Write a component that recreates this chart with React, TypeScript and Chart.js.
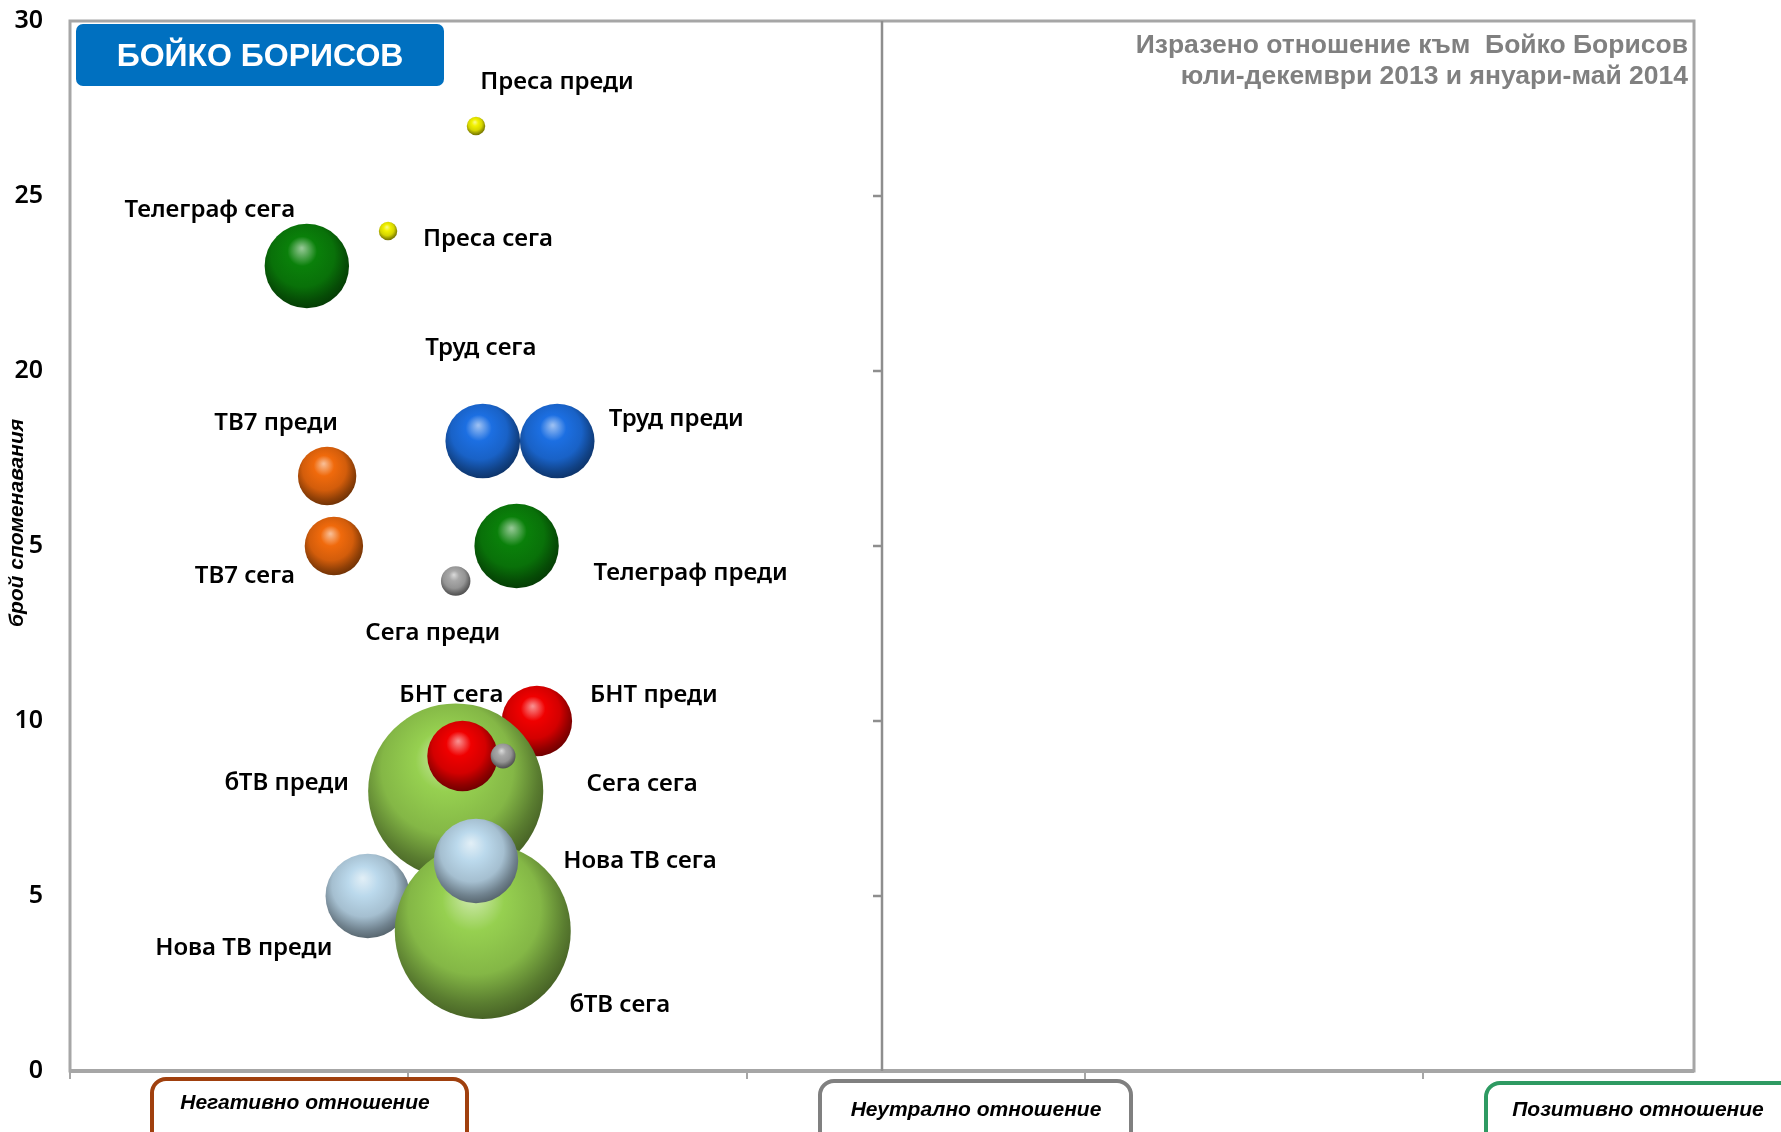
import React, { useEffect, useRef } from "react";
import { Chart, registerables } from "chart.js";

Chart.register(...registerables);

// ---- data (draw order: "преди" first, then "сега") ----
const bubbleLabels = [
  "Преса преди",
  "Труд преди",
  "ТВ7 преди",
  "Телеграф преди",
  "Сега преди",
  "БНТ преди",
  "бТВ преди",
  "Нова ТВ преди",
  "Преса сега",
  "Телеграф сега",
  "Труд сега",
  "ТВ7 сега",
  "бТВ сега",
  "БНТ сега",
  "Сега сега",
  "Нова ТВ сега",
];
// attitude (x)
const attitudeValues = [
  -0.6, -0.48, -0.82, -0.54, -0.63, -0.51, -0.63, -0.76,
  -0.73, -0.85, -0.59, -0.81, -0.59, -0.62, -0.56, -0.6,
];
// number of mentions (y)
const mentionValues = [27, 18, 17, 15, 14, 10, 8, 5, 24, 23, 18, 15, 4, 9, 9, 6];
// bubble size
const sizeValues = [1.1, 18, 11, 23, 2.8, 16, 99, 23, 1.1, 23, 18, 11, 100, 16, 2, 23];

const yTickValues = [0, 5, 10, 15, 20, 25, 30];
const xTickValues = [-1.2, -0.7, -0.2, 0.3, 0.8];

const chartTitle = "БОЙКО БОРИСОВ";
const subtitleLines = [
  "Изразено отношение към  Бойко Борисов",
  "юли-декември 2013 и януари-май 2014",
];
const yAxisTitle = "брой споменавания";
const zoneLabels = ["Негативно отношение", "Неутрално отношение", "Позитивно отношение"];

// ---- styles / layout ----
const bubbleColors = [
  "#F2F200", "#1C6FE2", "#F06A0C", "#0A800A", "#A8A8A8", "#F00000", "#96D050", "#BBD9EC",
  "#F2F200", "#0A800A", "#1C6FE2", "#F06A0C", "#96D050", "#F00000", "#A8A8A8", "#BBD9EC",
];
const labelOffsets: [number, number][] = [
  [81, -44], [119, -22], [-51, -53], [174, 27], [-23, 52], [117, -26], [-169, -8], [-124, 52],
  [100, 8], [-97, -56], [-2, -93], [-89, 30], [137, 74], [-11, -61], [139, 28], [164, 0],
];
const MAX_RADIUS = 88;

function hexToRgb(h: string) {
  const n = parseInt(h.slice(1), 16);
  return [(n >> 16) & 255, (n >> 8) & 255, n & 255];
}
function mix(a: string, b: string, t: number) {
  const A = hexToRgb(a);
  const B = hexToRgb(b);
  const c = A.map((v, i) => Math.round(v + (B[i] - v) * t));
  return `rgb(${c[0]},${c[1]},${c[2]})`;
}

const maxSize = Math.max(...sizeValues);
const bubbleData = attitudeValues.map((x, i) => ({
  x,
  y: mentionValues[i],
  r: MAX_RADIUS * Math.sqrt(sizeValues[i] / maxSize),
}));

const decorPlugin = {
  id: "decor",
  beforeDatasetsDraw(chart: any) {
    const { ctx, chartArea: a, scales } = chart;
    ctx.save();
    // plot border
    ctx.strokeStyle = "#A6A6A6";
    ctx.lineWidth = 3;
    ctx.strokeRect(a.left, a.top, a.right - a.left, a.bottom - a.top);
    ctx.lineWidth = 4;
    ctx.beginPath();
    ctx.moveTo(a.left, a.bottom);
    ctx.lineTo(a.right, a.bottom);
    ctx.stroke();
    // center (x = 0) axis line with ticks
    const x0 = scales.x.getPixelForValue(0);
    ctx.strokeStyle = "#8E8E8E";
    ctx.lineWidth = 2.5;
    ctx.beginPath();
    ctx.moveTo(x0, a.top);
    ctx.lineTo(x0, a.bottom);
    ctx.stroke();
    yTickValues.forEach((v) => {
      if (v === 0 || v === 30) return;
      const y = scales.y.getPixelForValue(v);
      ctx.beginPath();
      ctx.moveTo(x0 - 9, y);
      ctx.lineTo(x0, y);
      ctx.stroke();
    });
    ctx.restore();
  },
  afterDatasetsDraw(chart: any) {
    const { ctx, scales } = chart;
    ctx.save();
    ctx.font = "600 24px 'Noto Sans'";
    ctx.fillStyle = "#000";
    ctx.textAlign = "center";
    ctx.textBaseline = "middle";
    bubbleLabels.forEach((lab, i) => {
      const px = scales.x.getPixelForValue(attitudeValues[i]);
      const py = scales.y.getPixelForValue(mentionValues[i]);
      const [dx, dy] = labelOffsets[i];
      ctx.fillText(lab, px + dx, py + dy);
    });
    ctx.restore();
  },
  afterDraw(chart: any) {
    const { ctx } = chart;
    ctx.save();
    // title box
    ctx.fillStyle = "#0070C0";
    ctx.beginPath();
    ctx.roundRect(76, 24, 368, 62, 7);
    ctx.fill();
    ctx.fillStyle = "#fff";
    ctx.font = "bold 32px 'Liberation Sans'";
    ctx.textAlign = "center";
    ctx.textBaseline = "middle";
    ctx.fillText(chartTitle, 260, 57);
    // subtitle
    ctx.fillStyle = "#808080";
    ctx.font = "bold 26.5px 'Liberation Sans'";
    ctx.textAlign = "right";
    ctx.fillText(subtitleLines[0], 1688, 46);
    ctx.fillText(subtitleLines[1], 1688, 77);
    // y axis title
    ctx.fillStyle = "#fff";
    ctx.fillRect(4, 415, 25, 220);
    ctx.translate(17, 523);
    ctx.rotate(-Math.PI / 2);
    ctx.fillStyle = "#000";
    ctx.font = "italic bold 21px 'Liberation Sans'";
    ctx.textAlign = "center";
    ctx.fillText(yAxisTitle, 0, 0);
    ctx.setTransform(1, 0, 0, 1, 0, 0);
    // zone boxes
    const boxes = [
      { x: 152, y: 1079, w: 315, c: "#A0400E", tx: 305, ty: 1103 },
      { x: 820, y: 1081, w: 311, c: "#808080", tx: 976, ty: 1110 },
      { x: 1486, y: 1083, w: 320, c: "#2E9A62", tx: 1638, ty: 1110 },
    ];
    ctx.lineWidth = 4;
    boxes.forEach((b, i) => {
      ctx.strokeStyle = b.c;
      ctx.fillStyle = "#fff";
      ctx.beginPath();
      ctx.roundRect(b.x, b.y, b.w, 80, 14);
      ctx.fill();
      ctx.stroke();
      ctx.fillStyle = "#000";
      ctx.font = "italic bold 21px 'Liberation Sans'";
      ctx.textAlign = "center";
      ctx.textBaseline = "middle";
      ctx.fillText(zoneLabels[i], b.tx, b.ty);
    });
    ctx.restore();
  },
};

export default function App() {
  const ref = useRef<HTMLCanvasElement>(null);
  useEffect(() => {
    if (!ref.current) return;
    const chart = new Chart(ref.current, {
      type: "bubble",
      data: {
        datasets: [
          {
            label: "bubbles",
            data: bubbleData,
            borderWidth: 0,
            clip: false,
            backgroundColor: (c: any) => {
              const ch = c.chart;
              const base = bubbleColors[c.dataIndex] || "#888888";
              if (!ch.chartArea || c.raw == null) return base;
              const cx = ch.scales.x.getPixelForValue(c.raw.x);
              const cy = ch.scales.y.getPixelForValue(c.raw.y);
              const r = c.raw.r;
              const g = ch.ctx.createRadialGradient(
                cx - 0.12 * r, cy - 0.42 * r, r * 0.02,
                cx - 0.08 * r, cy - 0.16 * r, r * 1.2
              );
              g.addColorStop(0, mix(base, "#ffffff", 0.55));
              g.addColorStop(0.28, base);
              g.addColorStop(0.62, mix(base, "#000000", 0.12));
              g.addColorStop(0.85, mix(base, "#000000", 0.4));
              g.addColorStop(1, mix(base, "#000000", 0.55));
              return g;
            },
          },
        ],
      },
      options: {
        animation: false,
        responsive: false,
        events: [],
        layout: { autoPadding: false, padding: { top: 21, right: 87, left: 0, bottom: 0 } },
        plugins: { legend: { display: false }, tooltip: { enabled: false } },
        scales: {
          x: {
            type: "linear",
            min: -1.2,
            max: 1.2,
            afterBuildTicks: (s: any) => {
              s.ticks = xTickValues.map((v) => ({ value: v }));
            },
            afterFit: (s: any) => {
              s.height = 61;
              s.paddingLeft = 0;
              s.paddingRight = 0;
            },
            border: { display: false },
            grid: { display: true, drawOnChartArea: false, drawTicks: true, tickLength: 8, color: "#A6A6A6", lineWidth: 2 },
            ticks: { display: false },
          },
          y: {
            type: "linear",
            min: 0,
            max: 30,
            afterBuildTicks: (s: any) => {
              s.ticks = yTickValues.map((v) => ({ value: v }));
            },
            afterFit: (s: any) => {
              s.width = 70;
              s.paddingTop = 0;
              s.paddingBottom = 0;
            },
            border: { display: false },
            grid: { display: false, drawTicks: false },
            ticks: {
              color: "#000",
              padding: 27,
              font: { family: "'Noto Sans'", size: 25, weight: 600 },
            },
          },
        },
      },
      plugins: [decorPlugin],
    });
    return () => chart.destroy();
  }, []);
  return (
    <div style={{ position: "fixed", left: 0, top: 0, width: 1781, height: 1132, background: "#fff" }}>
      <canvas ref={ref} width={1781} height={1132} style={{ width: 1781, height: 1132, display: "block" }} />
    </div>
  );
}
